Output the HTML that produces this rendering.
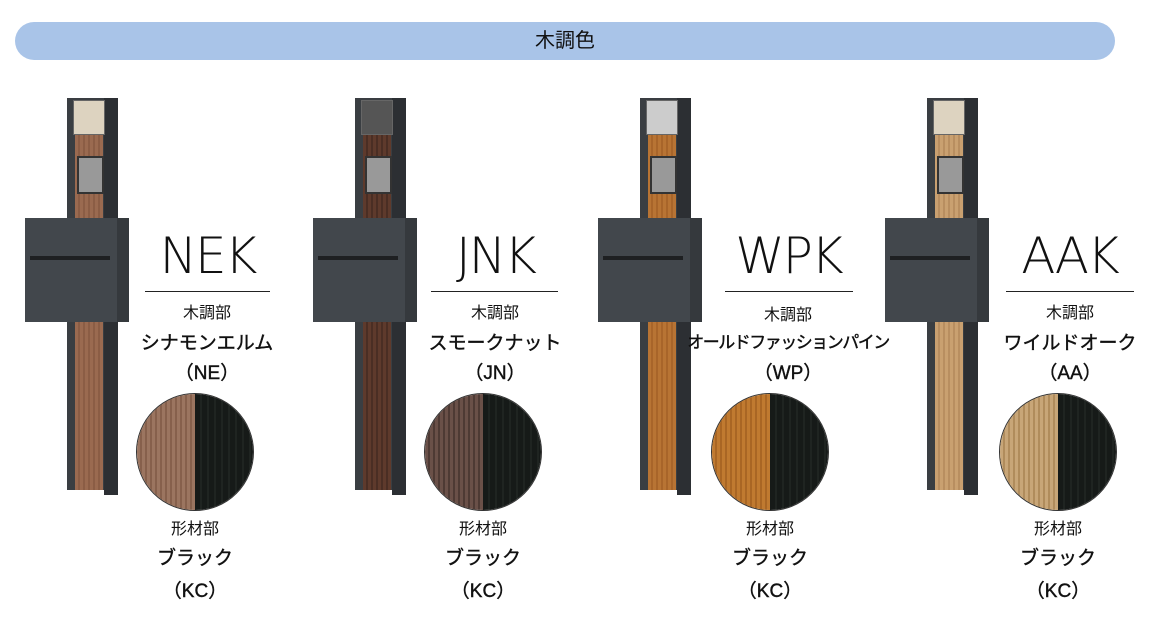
<!DOCTYPE html>
<html><head><meta charset="utf-8"><style>
body{margin:0;width:1156px;height:625px;background:#fff;position:relative;overflow:hidden;font-family:"Liberation Sans","Noto Sans CJK JP",sans-serif;color:#111}
.bar{position:absolute;left:15px;top:22px;width:1100px;height:38px;border-radius:19px;background:#a9c4e8;text-align:center;line-height:38px;font-size:20px}
.u{position:absolute;top:0;left:0;width:300px;height:625px}
.u div{position:absolute}
.post{left:67px;top:98px;width:51px;height:392px;background:#3a3e42}
.pside{left:104px;top:98px;width:14px;height:397px;background:#2c2f33}
.wood{left:75px;top:134px;width:28px;height:356px}
.top{left:73px;top:100px;width:30px;height:33px;background:#ddd3c0;border:1px solid #666}
.ic{left:77px;top:156px;width:23px;height:34px;background:#999;border:2px solid #333}
.box{left:25px;top:218px;width:104px;height:104px;background:#42474c;box-shadow:inset -12px 0 0 #35393d}
.slot{left:30px;top:256px;width:80px;height:4px;background:#1e2022}
.name{left:120px;width:175px;top:228px;text-align:center;font-size:50px;letter-spacing:-2px;font-family:"DejaVu Sans","Liberation Sans",sans-serif;font-weight:200;line-height:56px}
.ln{left:145px;top:291px;width:125px;height:1px;background:#222}
.t{text-align:center;width:240px;left:87px;line-height:1.2;white-space:nowrap}
.s{font-size:16px}
.b{font-size:19px;font-weight:normal;-webkit-text-stroke:0.4px #111}
.c{width:116px;height:116px;border-radius:50%;overflow:hidden;top:393px;left:136px;border:1px solid #333}
.c .l{left:0;top:0;width:58px;height:116px}
.c .r{left:58px;top:0;width:58px;height:116px;background:repeating-linear-gradient(90deg,#161a18 0 5px,#1f2421 5px 7px)}
</style></head><body>
<div class="bar">木調色</div>

<div class="u" style="left:0">
<div class="post"></div><div class="pside"></div>
<div class="wood" style="background:repeating-linear-gradient(90deg,#9a6a50 0 3px,#8b5d45 3px 5px)"></div>
<div class="top"></div><div class="ic"></div><div class="box"></div><div class="slot"></div>
<div class="name" style="left:120px">NEK</div><div class="ln"></div>
<div class="t s" style="top:304px">木調部</div>
<div class="t b" style="top:333px">シナモンエルム</div>
<div class="t b" style="top:363px">（NE）</div>
<div class="c"><div class="l" style="background:repeating-linear-gradient(90deg,#9b7560 0 3px,#86604c 3px 5px)"></div><div class="r"></div></div>
<div class="t s" style="top:520px;left:75px">形材部</div>
<div class="t b" style="top:548px;left:75px">ブラック</div>
<div class="t b" style="top:581px;left:75px">（KC）</div>
</div>

<div class="u" style="left:288px">
<div class="post"></div><div class="pside"></div>
<div class="wood" style="background:repeating-linear-gradient(90deg,#5e3a2c 0 3px,#4a2e24 3px 5px)"></div>
<div class="top" style="background:#555"></div><div class="ic"></div><div class="box"></div><div class="slot"></div>
<div class="name">JNK</div><div class="ln" style="left:143px;width:127px"></div>
<div class="t s" style="top:304px">木調部</div>
<div class="t b" style="top:333px">スモークナット</div>
<div class="t b" style="top:363px">（JN）</div>
<div class="c" style="left:136px"><div class="l" style="background:repeating-linear-gradient(90deg,#6a5048 0 3px,#4e3a34 3px 5px)"></div><div class="r"></div></div>
<div class="t s" style="top:520px;left:75px">形材部</div>
<div class="t b" style="top:548px;left:75px">ブラック</div>
<div class="t b" style="top:581px;left:75px">（KC）</div>
</div>

<div class="u" style="left:573px">
<div class="post"></div><div class="pside"></div>
<div class="wood" style="background:repeating-linear-gradient(90deg,#b87434 0 3px,#a8652a 3px 5px)"></div>
<div class="top" style="background:#ccc"></div><div class="ic"></div><div class="box"></div><div class="slot"></div>
<div class="name" style="left:128px">WPK</div><div class="ln" style="left:152px;width:128px"></div>
<div class="t s" style="top:306px;left:95px">木調部</div>
<div class="t b" style="top:333px;left:95px;font-size:17px;letter-spacing:-1.5px">オールドファッションパイン</div>
<div class="t b" style="top:363px;left:95px">（WP）</div>
<div class="c" style="left:138px"><div class="l" style="background:repeating-linear-gradient(90deg,#c07a30 0 3px,#a96624 3px 5px)"></div><div class="r"></div></div>
<div class="t s" style="top:520px;left:77px">形材部</div>
<div class="t b" style="top:548px;left:77px">ブラック</div>
<div class="t b" style="top:581px;left:77px">（KC）</div>
</div>

<div class="u" style="left:860px">
<div class="post"></div><div class="pside"></div>
<div class="wood" style="background:repeating-linear-gradient(90deg,#c9a070 0 3px,#b88e60 3px 5px)"></div>
<div class="top"></div><div class="ic"></div><div class="box"></div><div class="slot"></div>
<div class="name" style="left:122px">AAK</div><div class="ln" style="left:146px;width:128px"></div>
<div class="t s" style="top:304px;left:90px">木調部</div>
<div class="t b" style="top:333px;left:90px">ワイルドオーク</div>
<div class="t b" style="top:363px;left:90px">（AA）</div>
<div class="c" style="left:139px"><div class="l" style="background:repeating-linear-gradient(90deg,#c8a678 0 3px,#b08c5c 3px 5px)"></div><div class="r"></div></div>
<div class="t s" style="top:520px;left:78px">形材部</div>
<div class="t b" style="top:548px;left:78px">ブラック</div>
<div class="t b" style="top:581px;left:78px">（KC）</div>
</div>
</body></html>
